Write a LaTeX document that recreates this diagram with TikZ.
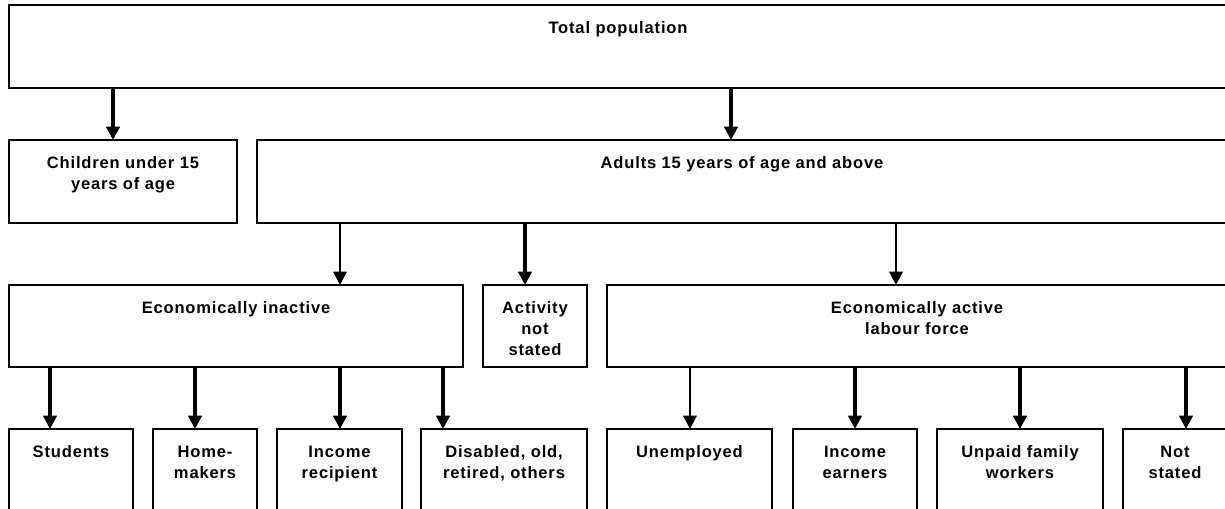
\documentclass[tikz,border=0pt]{standalone}
\usepackage{fontspec}
\setmainfont{Liberation Sans}[LetterSpace=5]
\usetikzlibrary{arrows.meta}
\newdimen\unitpx \unitpx=0.75pt
\newcommand\pbx[3]{\parbox[t][\numexpr#2\relax\unitpx][t]{\numexpr#1\relax\unitpx}{\centering\fontsize{12.4}{15.75}\selectfont\bfseries\vspace*{10.5pt}#3\par}}
\newcommand\bx[6]{\node[box] (#1) at (#2,#3) {\pbx{#4-#2}{#5-#3}{\strut#6}};}
\tikzset{
  box/.style={draw=black, line width=1.8pt, anchor=north west, inner sep=0pt, outer sep=0pt, fill=white},
  thickarr/.style={line width=3pt, -{Triangle[width=10pt,length=10pt]}},
  thinarr/.style={line width=1.8pt, -{Triangle[width=10pt,length=10pt]}}
}
\begin{document}
\begin{tikzpicture}[x=0.75pt,y=-0.75pt]
\useasboundingbox (0,0) rectangle (1225,509);
\clip (0,0) rectangle (1225,509);
\fill[white] (0,0) rectangle (1225,509);
\bx{top}{9}{5}{1227}{88}{Total population}
\bx{child}{9}{140}{237}{223}{Children under 15\\\strut years of age}
\bx{adult}{257}{140}{1227}{223}{Adults 15 years of age and above}
\bx{inact}{9}{285}{463}{367}{Economically inactive}
\bx{nsa}{483}{285}{587}{367}{Activity\\\strut not\\\strut stated}
\bx{active}{607}{285}{1227}{367}{Economically active\\\strut labour force}
\bx{stud}{9}{429}{133}{515}{Students}
\bx{home}{153}{429}{257}{515}{Home-\\\strut makers}
\bx{incr}{277}{429}{402}{515}{Income\\\strut recipient}
\bx{dis}{421}{429}{587}{515}{Disabled, old,\\\strut retired, others}
\bx{unem}{607}{429}{772}{515}{Unemployed}
\bx{ince}{793}{429}{917}{515}{Income\\\strut earners}
\bx{unp}{937}{429}{1103}{515}{Unpaid family\\\strut workers}
\bx{nst}{1123}{429}{1227}{515}{Not\\\strut stated}
% arrows
\draw[thickarr] (113,0 |- top.south) -- (113,0 |- child.north);
\draw[thickarr] (731,0 |- top.south) -- (731,0 |- adult.north);
\draw[thinarr] (340,0 |- adult.south) -- (340,0 |- inact.north);
\draw[thickarr] (525,0 |- adult.south) -- (525,0 |- nsa.north);
\draw[thinarr] (896,0 |- adult.south) -- (896,0 |- active.north);
\draw[thickarr] (50,0 |- inact.south) -- (50,0 |- stud.north);
\draw[thickarr] (195,0 |- inact.south) -- (195,0 |- home.north);
\draw[thickarr] (340,0 |- inact.south) -- (340,0 |- incr.north);
\draw[thickarr] (443,0 |- inact.south) -- (443,0 |- dis.north);
\draw[thinarr] (690,0 |- active.south) -- (690,0 |- unem.north);
\draw[thickarr] (855,0 |- active.south) -- (855,0 |- ince.north);
\draw[thickarr] (1020,0 |- active.south) -- (1020,0 |- unp.north);
\draw[thickarr] (1186,0 |- active.south) -- (1186,0 |- nst.north);
\end{tikzpicture}
\end{document}
